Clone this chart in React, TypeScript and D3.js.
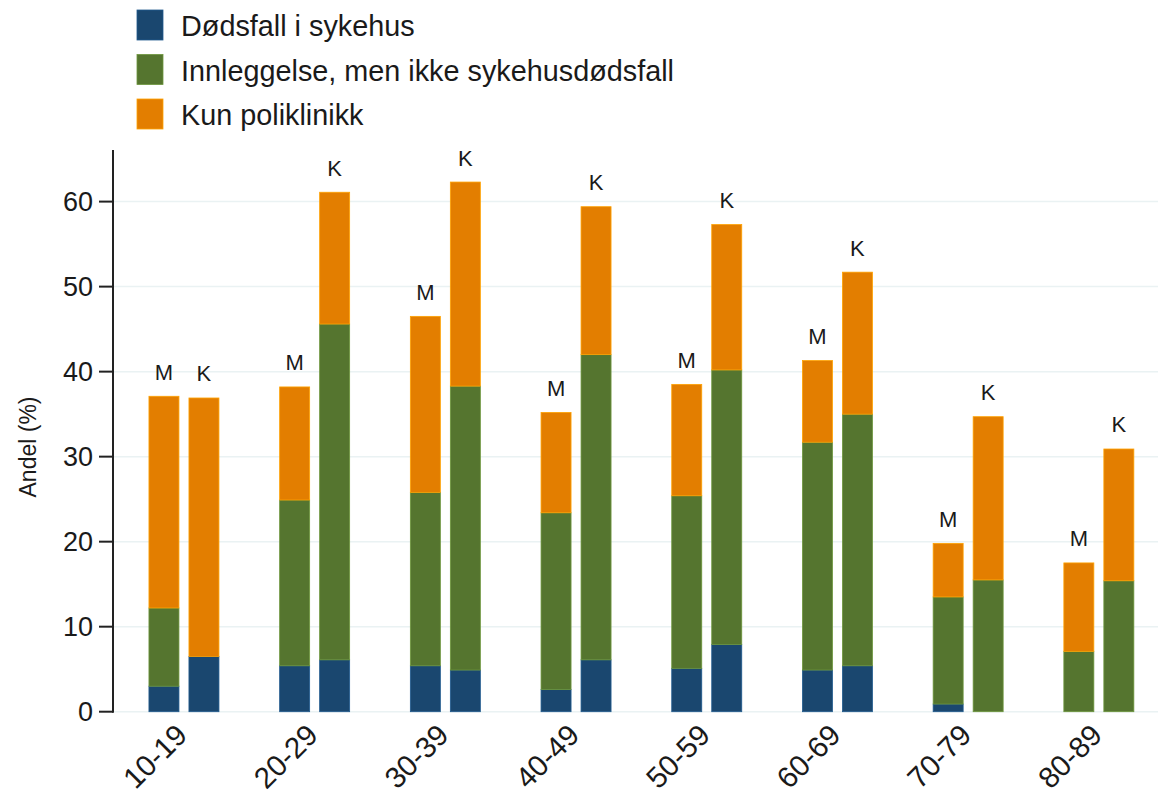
import React from "react";
import * as d3 from "d3";

const groups = ["10-19", "20-29", "30-39", "40-49", "50-59", "60-69", "70-79", "80-89"];
const sexes = ["M", "K"];
const seriesNames = ["Dødsfall i sykehus", "Innleggelse, men ikke sykehusdødsfall", "Kun poliklinikk"];
const seriesColors = ["#1a476f", "#55752f", "#e37e00"];

// Menn (M)
const dodsfallM = [3.0, 5.4, 5.4, 2.6, 5.1, 4.9, 0.9, 0];
const innleggM = [9.2, 19.5, 20.4, 20.8, 20.3, 26.8, 12.6, 7.1];
const poliM = [24.9, 13.3, 20.7, 11.8, 13.1, 9.6, 6.3, 10.4];
// Kvinner (K)
const dodsfallK = [6.5, 6.1, 4.9, 6.1, 7.9, 5.4, 0, 0];
const innleggK = [0, 39.5, 33.4, 35.9, 32.3, 29.6, 15.5, 15.4];
const poliK = [30.4, 15.5, 24.0, 17.4, 17.1, 16.7, 19.2, 15.5];

const yTicks = [0, 10, 20, 30, 40, 50, 60];
const yLabel = "Andel (%)";

const W = 1158;
const H = 794;
const FONT = "'Liberation Sans', Arial, Helvetica, sans-serif";

export default function App() {
  const rows = [] as any[];
  groups.forEach((g, i) => {
    rows.push({ group: g, sex: "M", s0: dodsfallM[i], s1: innleggM[i], s2: poliM[i] });
    rows.push({ group: g, sex: "K", s0: dodsfallK[i], s1: innleggK[i], s2: poliK[i] });
  });
  const stack = d3.stack<any>().keys(["s0", "s1", "s2"]);
  const stacked = stack(rows);

  const x = d3.scaleBand<string>().domain(groups).range([118.6, 1164.2]).paddingInner(0).paddingOuter(0);
  const xs = d3.scaleBand<string>().domain(sexes).range([-35, 35]).paddingInner(0.25).paddingOuter(0);
  const y = d3.scaleLinear().domain([0, 60]).range([711.7, 201.6]);

  const axisX = 113;
  const center = (g: string) => (x(g) as number) + x.bandwidth() / 2;

  return (
    <svg width={W} height={H} style={{ position: "absolute", left: 0, top: 0, background: "#fff" }} fontFamily={FONT}>
      <rect x={0} y={0} width={W} height={H} fill="#ffffff" />
      {/* gridlines */}
      {yTicks.map((t) => (
        <line key={"g" + t} x1={axisX} x2={W} y1={y(t)} y2={y(t)} stroke="#eaf2f3" strokeWidth={1.5} />
      ))}
      {/* bars */}
      {stacked.map((layer, li) =>
        layer.map((d: any, di: number) => {
          const r = d.data;
          const h = y(d[0]) - y(d[1]);
          if (h <= 0.01) return null;
          const bx = center(r.group) + (xs(r.sex) as number);
          const c = d3.color(seriesColors[li])!.brighter(0.7).formatHex();
          return (
            <rect
              key={li + "-" + di}
              x={bx}
              y={y(d[1])}
              width={xs.bandwidth()}
              height={h}
              fill={seriesColors[li]}
              stroke={c}
              strokeWidth={0.8}
            />
          );
        })
      )}
      {/* M/K labels */}
      {rows.map((r, i) => {
        const total = r.s0 + r.s1 + r.s2;
        return (
          <text
            key={"lab" + i}
            x={center(r.group) + (xs(r.sex) as number) + xs.bandwidth() / 2}
            y={y(total) - 16.5}
            textAnchor="middle"
            fontSize={22}
            fill="#1a1a1a"
          >
            {r.sex}
          </text>
        );
      })}
      {/* y axis */}
      <line x1={axisX} x2={axisX} y1={150} y2={y(0) + 1} stroke="#222" strokeWidth={2} />
      {yTicks.map((t) => (
        <g key={"t" + t}>
          <line x1={99} x2={axisX} y1={y(t)} y2={y(t)} stroke="#222" strokeWidth={2} />
          <text x={93} y={y(t)} dy="0.36em" textAnchor="end" fontSize={27} fill="#1a1a1a">
            {t}
          </text>
        </g>
      ))}
      <text transform={`translate(36,447) rotate(-90)`} textAnchor="middle" fontSize={23} fill="#1a1a1a">
        {yLabel}
      </text>
      {/* x labels */}
      {groups.map((g) => (
        <text
          key={"x" + g}
          transform={`translate(${center(g) + 5},${737}) rotate(-45)`}
          textAnchor="end"
          fontSize={29.5}
          fill="#1a1a1a"
        >
          {g}
        </text>
      ))}
      {/* legend */}
      {seriesNames.map((n, i) => (
        <g key={"leg" + i} transform={`translate(0,${i * 44.5})`}>
          <rect x={137} y={10} width={26} height={30} fill={seriesColors[i]} stroke={d3.color(seriesColors[i])!.brighter(0.7).formatHex()} strokeWidth={0.8} />
          <text x={181} y={36} fontSize={28.8} fill="#1a1a1a">
            {n}
          </text>
        </g>
      ))}
    </svg>
  );
}
